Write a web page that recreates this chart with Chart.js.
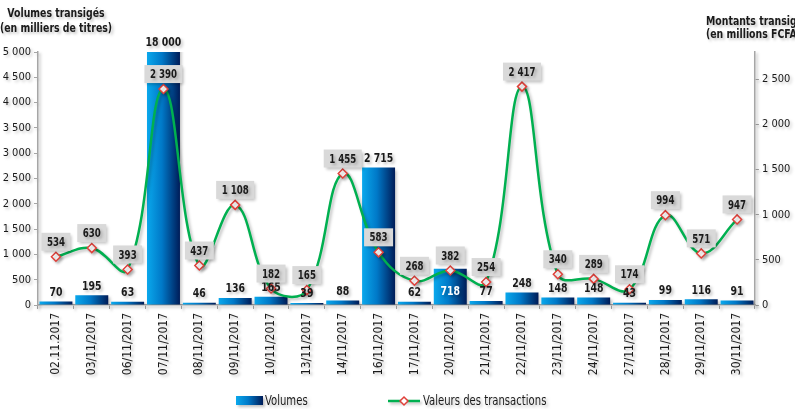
<!DOCTYPE html>
<html>
<head>
<meta charset="utf-8">
<script src="https://cdn.jsdelivr.net/npm/chart.js@4.4.1/dist/chart.umd.min.js"></script>
<style>
  html, body { margin: 0; padding: 0; background: #fff; }
  #wrap { width: 795px; height: 409px; }
</style>
</head>
<body>
<div id="wrap"><canvas id="chart"></canvas></div>
<script>
// categories (trading days)
const dates = ['02.11.2017', '03/11/2017', '06/11/2017', '07/11/2017', '08/11/2017', '09/11/2017',
  '10/11/2017', '13/11/2017', '14/11/2017', '16/11/2017', '17/11/2017', '20/11/2017',
  '21/11/2017', '22/11/2017', '23/11/2017', '24/11/2017', '27/11/2017', '28/11/2017',
  '29/11/2017', '30/11/2017'];
// volumes transigés (milliers de titres)
const volumes = [70, 195, 63, 18000, 46, 136, 165, 39, 88, 2715, 62, 718, 77, 248, 148, 148, 43, 99, 116, 91];
// valeurs des transactions (millions FCFA)
const valeurs = [534, 630, 393, 2390, 437, 1108, 182, 165, 1455, 583, 268, 382, 254, 2417, 340, 289, 174, 994, 571, 947];
// axis ranges and tick values
const volumeMax = 5000;
const valeurMax = 2800;
const volumeTicks = [0, 500, 1000, 1500, 2000, 2500, 3000, 3500, 4000, 4500, 5000];
const valeurTicks = [0, 500, 1000, 1500, 2000, 2500];
// bars whose label sits inside the bar
const insideLabels = ['20/11/2017'];

const FONT = '"DejaVu Sans Condensed", "DejaVu Sans", sans-serif';
const NARROW = 0.8;  // horizontal squeeze for drawn labels
const fmt = v => String(v).replace(/\B(?=(\d{3})+(?!\d))/g, ' ');

function barGradient(ctx, x0, x1) {
  const g = ctx.createLinearGradient(x0, 0, x1, 0);
  g.addColorStop(0, '#0aa8ec');
  g.addColorStop(0.45, '#0079c8');
  g.addColorStop(1, '#001c58');
  return g;
}

function narrowText(ctx, txt, x, y) {
  ctx.save();
  ctx.translate(x, y);
  ctx.scale(NARROW, 1);
  ctx.fillText(txt, 0, 0);
  ctx.restore();
}

const shadowPlugin = {
  id: 'shadow',
  beforeDraw(chart) {
    const ctx = chart.ctx;
    ctx.shadowColor = 'rgba(0,0,0,0.25)';
    ctx.shadowBlur = 3;
    ctx.shadowOffsetX = 2;
    ctx.shadowOffsetY = 2;
  }
};

const labelPlugin = {
  id: 'labels',
  afterDatasetsDraw(chart) {
    const ctx = chart.ctx;
    const area = chart.chartArea;
    ctx.save();
    ctx.textAlign = 'center';
    ctx.textBaseline = 'middle';

    // bar values
    ctx.font = 'bold 13px ' + FONT;
    chart.getDatasetMeta(0).data.forEach((el, i) => {
      const top = Math.max(el.y, area.top);
      if (insideLabels.includes(dates[i])) {
        ctx.fillStyle = '#ffffff';
        narrowText(ctx, fmt(volumes[i]), el.x, area.bottom - 13);
      } else {
        ctx.fillStyle = '#1a1a1a';
        narrowText(ctx, fmt(volumes[i]), el.x, top - 9);
      }
    });

    // line values in grey boxes
    ctx.font = 'bold 12px ' + FONT;
    chart.getDatasetMeta(1).data.forEach((pt, i) => {
      const txt = fmt(valeurs[i]);
      const w = ctx.measureText(txt).width * NARROW + 11;
      const h = 18;
      const cy = pt.y - 15;
      ctx.fillStyle = '#d9d9d9';
      ctx.fillRect(pt.x - w / 2, cy - h / 2, w, h);
      ctx.fillStyle = '#1a1a1a';
      narrowText(ctx, txt, pt.x, cy + 1);
    });
    ctx.restore();
  },
  afterDraw(chart) {
    const ctx = chart.ctx;
    ctx.save();
    // axis titles
    ctx.fillStyle = '#1a1a1a';
    ctx.font = 'bold 13px ' + FONT;
    ctx.textBaseline = 'middle';
    ctx.textAlign = 'center';
    narrowText(ctx, 'Volumes transigés', 56, 14);
    narrowText(ctx, '(en milliers de titres)', 56, 29);
    ctx.textAlign = 'left';
    narrowText(ctx, 'Montants transigés', 706, 22);
    narrowText(ctx, '(en millions FCFA)', 706, 35);

    // legend
    ctx.fillStyle = barGradient(ctx, 236, 263);
    ctx.fillRect(236, 396, 27, 9);
    ctx.font = '14px ' + FONT;
    ctx.fillStyle = '#1a1a1a';
    narrowText(ctx, 'Volumes', 265, 401);
    ctx.strokeStyle = '#00b050';
    ctx.lineWidth = 2.5;
    ctx.beginPath();
    ctx.moveTo(388, 401);
    ctx.lineTo(420, 401);
    ctx.stroke();
    ctx.shadowColor = 'transparent';
    ctx.fillStyle = '#fff';
    ctx.strokeStyle = '#e0403a';
    ctx.lineWidth = 1.5;
    ctx.beginPath();
    ctx.moveTo(404, 397); ctx.lineTo(408, 401); ctx.lineTo(404, 405); ctx.lineTo(400, 401);
    ctx.closePath();
    ctx.fill();
    ctx.stroke();
    ctx.shadowColor = 'rgba(0,0,0,0.25)';
    ctx.fillStyle = '#1a1a1a';
    narrowText(ctx, 'Valeurs des transactions', 423, 401);
    ctx.restore();
  }
};

const axisStyle = {
  grid: { drawOnChartArea: false, color: '#a6a6a6', tickLength: 4 },
  border: { color: '#a6a6a6', width: 1.5 }
};

const ctx = document.getElementById('chart').getContext('2d');
new Chart(ctx, {
  type: 'bar',
  data: {
    labels: dates,
    datasets: [
      {
        type: 'bar',
        label: 'Volumes',
        data: volumes,
        yAxisID: 'y',
        order: 1,
        clip: 0,
        barPercentage: 0.92,
        categoryPercentage: 1,
        backgroundColor: c => {
          const chart = c.chart;
          const area = chart.chartArea;
          if (!area || c.dataIndex === undefined) return '#0079c8';
          const x = chart.scales.x.getPixelForValue(c.dataIndex);
          const w = (area.right - area.left) / dates.length * 0.92;
          return barGradient(chart.ctx, x - w / 2, x + w / 2);
        }
      },
      {
        type: 'line',
        label: 'Valeurs des transactions',
        data: valeurs,
        yAxisID: 'y1',
        order: 0,
        borderColor: '#00b050',
        borderWidth: 2.5,
        tension: 0.4,
        pointStyle: 'rectRot',
        pointRadius: 4.5,
        pointBackgroundColor: '#ffffff',
        pointBorderColor: '#e0403a',
        pointBorderWidth: 1.5
      }
    ]
  },
  options: {
    responsive: true,
    maintainAspectRatio: false,
    animation: false,
    devicePixelRatio: 1,
    layout: { padding: { top: 52, bottom: 22, left: 0, right: 0 } },
    plugins: {
      legend: { display: false },
      tooltip: { enabled: false }
    },
    scales: {
      x: {
        ...axisStyle,
        afterFit: s => { s.height = 82; },
        ticks: {
          minRotation: 90, maxRotation: 90, padding: 4,
          color: '#1a1a1a', font: { family: FONT, size: 12 }
        }
      },
      y: {
        ...axisStyle,
        position: 'left',
        min: 0, max: volumeMax,
        afterFit: s => { s.width = 38; },
        afterBuildTicks: s => { s.ticks = volumeTicks.map(v => ({ value: v })); },
        ticks: {
          padding: 3, autoSkip: false,
          color: '#1a1a1a', font: { family: FONT, size: 11 },
          callback: v => fmt(v)
        }
      },
      y1: {
        ...axisStyle,
        position: 'right',
        min: 0, max: valeurMax,
        afterFit: s => { s.width = 40; },
        afterBuildTicks: s => { s.ticks = valeurTicks.map(v => ({ value: v })); },
        ticks: {
          padding: 3, autoSkip: false,
          color: '#1a1a1a', font: { family: FONT, size: 11 },
          callback: v => fmt(v)
        }
      }
    }
  },
  plugins: [shadowPlugin, labelPlugin]
});
</script>
</body>
</html>
